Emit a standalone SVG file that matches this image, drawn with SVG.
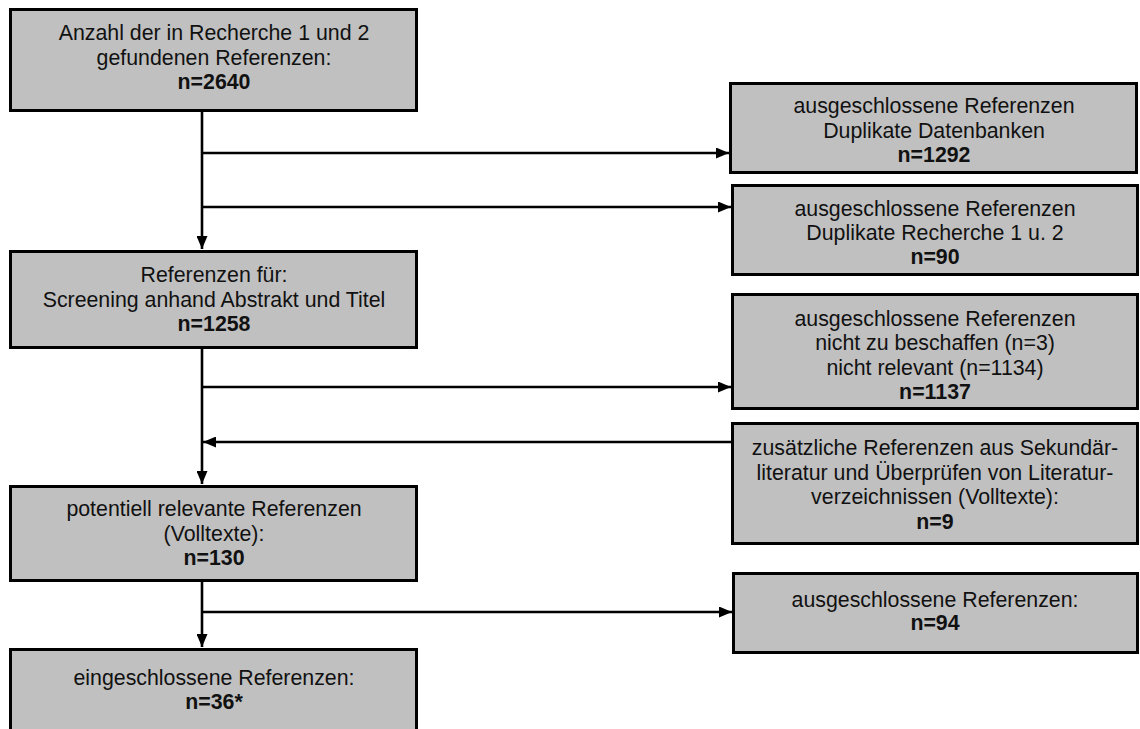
<svg xmlns="http://www.w3.org/2000/svg" width="1140" height="729" viewBox="0 0 1140 729">
<style>
.box{fill:#c0c0c0;stroke:#000;stroke-width:3}
.t{font-family:"Liberation Sans",Arial,sans-serif;font-size:21.33px;fill:#111;text-anchor:middle}
.b{font-weight:bold}
.c{stroke:#000;stroke-width:2.6;fill:none}
</style>
<defs>
<marker id="ah" viewBox="0 0 13 11" refX="13" refY="5.5" markerWidth="13" markerHeight="11" markerUnits="userSpaceOnUse" orient="auto">
<path d="M0,0 L13,5.5 L0,11 z" fill="#000"/>
</marker>
</defs>
<rect width="1140" height="729" fill="#fff"/>
<g id="connectors">
<line class="c" x1="202" y1="112" x2="202" y2="249" marker-end="url(#ah)"/>
<line class="c" x1="202" y1="153" x2="729" y2="153" marker-end="url(#ah)"/>
<line class="c" x1="202" y1="207" x2="731" y2="207" marker-end="url(#ah)"/>
<line class="c" x1="202" y1="349" x2="202" y2="484" marker-end="url(#ah)"/>
<line class="c" x1="202" y1="387" x2="731" y2="387" marker-end="url(#ah)"/>
<line class="c" x1="731" y1="442" x2="203" y2="442" marker-end="url(#ah)"/>
<line class="c" x1="202" y1="582" x2="202" y2="647" marker-end="url(#ah)"/>
<line class="c" x1="202" y1="612" x2="732" y2="612" marker-end="url(#ah)"/>
</g>
<g id="n1">
<rect class="box" x="10.5" y="9.5" width="406" height="101"/>
<text class="t" x="214" y="40">Anzahl der in Recherche 1 und 2</text>
<text class="t" x="214" y="64.5">gefundenen Referenzen:</text>
<text class="t b" x="214" y="89">n=2640</text>
</g>
<g id="n2">
<rect class="box" x="10.5" y="251.5" width="406" height="96"/>
<text class="t" x="214" y="282">Referenzen für:</text>
<text class="t" x="214" y="306.5">Screening anhand Abstrakt und Titel</text>
<text class="t b" x="214" y="331">n=1258</text>
</g>
<g id="n3">
<rect class="box" x="10.5" y="486.5" width="406" height="94"/>
<text class="t" x="214" y="516">potentiell relevante Referenzen</text>
<text class="t" x="214" y="540.5">(Volltexte):</text>
<text class="t b" x="214" y="565">n=130</text>
</g>
<g id="n4">
<rect class="box" x="10.5" y="649.5" width="406" height="100"/>
<text class="t" x="214" y="685">eingeschlossene Referenzen:</text>
<text class="t b" x="214" y="709">n=36*</text>
</g>
<g id="r1">
<rect class="box" x="730.5" y="83.5" width="406" height="89"/>
<text class="t" x="934" y="113">ausgeschlossene Referenzen</text>
<text class="t" x="934" y="137.5">Duplikate Datenbanken</text>
<text class="t b" x="934" y="162">n=1292</text>
</g>
<g id="r2">
<rect class="box" x="732.5" y="185.5" width="405" height="89"/>
<text class="t" x="935" y="216">ausgeschlossene Referenzen</text>
<text class="t" x="935" y="240">Duplikate Recherche 1 u. 2</text>
<text class="t b" x="935" y="264">n=90</text>
</g>
<g id="r3">
<rect class="box" x="732.5" y="294.5" width="405" height="114"/>
<text class="t" x="935" y="326">ausgeschlossene Referenzen</text>
<text class="t" x="935" y="350">nicht zu beschaffen (n=3)</text>
<text class="t" x="935" y="375">nicht relevant (n=1134)</text>
<text class="t b" x="935" y="399">n=1137</text>
</g>
<g id="r4">
<rect class="box" x="732.5" y="423.5" width="405" height="120"/>
<text class="t" x="935" y="455">zusätzliche Referenzen aus Sekundär-</text>
<text class="t" x="935" y="479.5">literatur und Überprüfen von Literatur-</text>
<text class="t" x="935" y="504">verzeichnissen (Volltexte):</text>
<text class="t b" x="935" y="528.5">n=9</text>
</g>
<g id="r5">
<rect class="box" x="733.5" y="573.5" width="404" height="79"/>
<text class="t" x="935" y="607">ausgeschlossene Referenzen:</text>
<text class="t b" x="935" y="630">n=94</text>
</g>
</svg>
